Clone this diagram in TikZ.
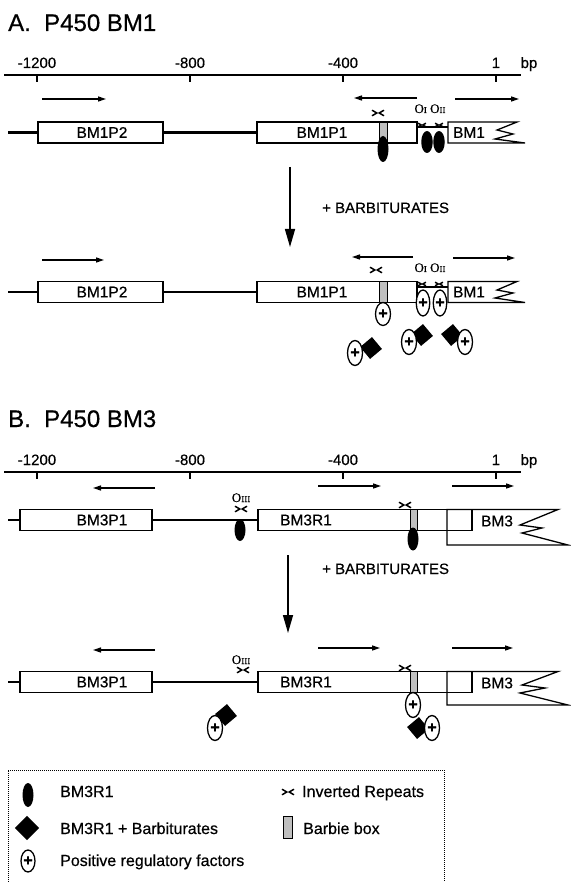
\documentclass[tikz,border=0pt]{standalone}
\usepackage{fontspec}
\setmainfont{Liberation Sans}[FakeBold=0.5]
\newfontfamily\serifo{Liberation Serif}[FakeBold=0.4]
\usetikzlibrary{arrows.meta,shapes.geometric}
\newcommand\smI{{\fontsize{9}{9}\selectfont I}}
\begin{document}
\begin{tikzpicture}[x=1pt,y=-1pt,
 gbox/.style={draw, line width=1.3pt, fill=white, inner sep=0pt, minimum height=21pt},
 gline/.style={draw, line width=1.3pt, line join=miter},
 dna/.style={line width=2.6pt},
 link/.style={line width=1.3pt},
 lbl/.style={inner sep=0pt, font=\fontsize{15.5}{16}\selectfont},
 ttl/.style={inner sep=0pt, anchor=base west, font=\fontsize{24}{26}\selectfont},
 axlbl/.style={inner sep=0pt, anchor=base, font=\fontsize{15}{16}\selectfont},
 axisline/.style={line width=1.3pt},
 tarrow/.style={line width=1.4pt, -{Triangle[length=8pt,width=5pt]}},
 bigarrow/.style={line width=1.5pt, -{Triangle[length=18pt,width=10pt]}},
 barbie/.style={draw, line width=0.9pt, fill=gray!50, inner sep=0pt, minimum width=8pt, minimum height=21pt},
 bm3r/.style={ellipse, fill=black, inner sep=0pt, minimum width=11pt, minimum height=24pt},
 pfac/.style={ellipse, draw, line width=1.3pt, fill=white, inner sep=0pt, minimum width=15pt, minimum height=25pt, font=\fontsize{16}{16}\selectfont\bfseries},
 dmd/.style={rectangle, fill=black, inner sep=0pt, minimum width=15.5pt, minimum height=15.5pt, rotate=40},
 opl/.style={inner sep=0pt, anchor=base, font=\serifo\fontsize{13}{13}\selectfont},
 btxt/.style={inner sep=0pt, anchor=base west, font=\fontsize{15}{16}\selectfont},
 legtxt/.style={inner sep=0pt, anchor=base west, font=\fontsize{16}{18}\selectfont},
 irep/.pic={\draw[line width=1.5pt] (-6,-2.8) -- (-1.2,0) -- (-6,2.8) (6,-2.8) -- (1.2,0) -- (6,2.8);}
]
\useasboundingbox (0,0) rectangle (570,882);

% ================= A =================
\node[ttl] (tA) at (8,31) {A.\ \ P450 BM1};
\coordinate (axAl) at (4,75); \coordinate (axAr) at (521,75);
\draw[axisline] (axAl) -- (axAr);
\foreach \x/\t/\n in {37/-1200/a, 190/-800/b, 343/-400/c, 496/1/d} {
  \draw[axisline] (\x,75) -- (\x,82);
  \node[axlbl] (axA\n) at (\x,68) {\t};
}
\node[axlbl] (bpA) at (529,68) {bp};

% row A1
\draw[tarrow] (42,99) -- (106,99);
\draw[tarrow] (417,98) -- (354,98);
\draw[tarrow] (455,99) -- (519,99);
\node[gbox, minimum width=125pt] (a1p2) at (100.5,132.5) {};
\node[lbl] (a1p2t) at (102,132.5) {BM1P2};
\node[gbox, minimum width=160pt] (a1p1) at (337,132.5) {};
\node[lbl] (a1p1t) at (322,132.5) {BM1P1};
\coordinate (a1s) at (8,132.5);
\draw[dna] (a1s) -- (a1p2.west);
\draw[dna] (a1p2.east) -- (a1p1.west);
\draw[link] (a1p1.east |- 0,127) -- (448,127);
\draw[gline, fill=white] (448,122) -- (517,122) -- (497,130) -- (513,134) -- (495,139) -- (525,143) -- (448,143) -- cycle;
\node[lbl] (a1g) at (469,132.5) {BM1};
\node[barbie] (a1bb) at (383,132.5) {};
\node[bm3r, minimum height=26pt] (a1e0) at (383,149) {};
\node[bm3r, minimum width=11.5pt, minimum height=22pt] (a1e1) at (427,142) {};
\node[bm3r, minimum width=11.5pt, minimum height=22pt] (a1e2) at (439,142) {};
\pic at (378,113) {irep};
\pic[scale=0.65] at (422,125) {irep};
\pic[scale=0.65] at (439,125) {irep};
\node[opl] (a1o) at (430,113) {O\smI\ O\smI\smI};

% arrow A
\coordinate (arAs) at (290,167); \coordinate (arAe) at (290,247);
\draw[bigarrow] (arAs) -- (arAe);
\node[btxt] (barbA) at (322,213) {+ BARBITURATES};

% row A2
\draw[tarrow] (42,260) -- (104,260);
\draw[tarrow] (413,257) -- (352,257);
\draw[tarrow] (453,258) -- (515,258);
\node[gbox, minimum width=125pt] (a2p2) at (100.5,292) {};
\node[lbl] (a2p2t) at (102,292) {BM1P2};
\node[gbox, minimum width=160pt] (a2p1) at (337,292) {};
\node[lbl] (a2p1t) at (322,292) {BM1P1};
\coordinate (a2s) at (8,292);
\draw[dna] (a2s) -- (a2p2.west);
\draw[dna] (a2p2.east) -- (a2p1.west);
\draw[link] (a2p1.east |- 0,287) -- (448,287);
\draw[gline, fill=white] (448,281.5) -- (517,281.5) -- (497,290) -- (513,293) -- (495,298) -- (525,302.5) -- (448,302.5) -- cycle;
\node[lbl] (a2g) at (469,292) {BM1};
\node[barbie] (a2bb) at (383,292) {};
\pic at (376,270) {irep};
\pic[scale=0.65] at (422,284) {irep};
\pic[scale=0.65] at (439,284) {irep};
\node[opl] (a2o) at (430,272) {O\smI\ O\smI\smI};
\node[pfac, minimum height=23pt] (a2f0) at (383,314) {+};
\node[pfac, minimum width=13.5pt, minimum height=26pt] (a2f1) at (423,303) {+};
\node[pfac, minimum width=13.5pt, minimum height=26pt] (a2f2) at (440,303) {+};
\node[dmd] (a2d1) at (371,348) {};
\node[pfac] (a2c1) at (355,353) {+};
\node[dmd] (a2d2) at (422,335) {};
\node[pfac] (a2c2) at (409,342) {+};
\node[dmd] (a2d3) at (452,335) {};
\node[pfac] (a2c3) at (465,342) {+};

% ================= B =================
\node[ttl] (tB) at (8,427) {B.\ \ P450 BM3};
\coordinate (axBl) at (4,472); \coordinate (axBr) at (521,472);
\draw[axisline] (axBl) -- (axBr);
\foreach \x/\t/\n in {37/-1200/a, 190/-800/b, 343/-400/c, 496/1/d} {
  \draw[axisline] (\x,472) -- (\x,479);
  \node[axlbl] (axB\n) at (\x,465) {\t};
}
\node[axlbl] (bpB) at (529,465) {bp};

% row B1
\draw[tarrow] (155,488) -- (93,488);
\draw[tarrow] (318,486) -- (381,486);
\draw[tarrow] (452,486) -- (514,486);
\node[gbox, minimum width=132pt] (b1p1) at (86,520) {};
\node[lbl] (b1p1t) at (102,520) {BM3P1};
\node[gbox, minimum width=214pt] (b1r1) at (365,520) {};
\node[lbl] (b1r1t) at (306,520) {BM3R1};
\coordinate (b1s) at (8,520);
\draw[dna] (b1s) -- (b1p1.west);
\draw[dna] (b1p1.east) -- (b1r1.west);
\draw[gline] (447,509.5) -- (558,509.5) -- (520,525) -- (542,528) -- (522,533) -- (568,545) -- (447,545) -- cycle;
\node[lbl] (b1g) at (497,521) {BM3};
\node[barbie, minimum width=7pt] (b1bb) at (413.5,520) {};
\node[bm3r, minimum width=11pt, minimum height=22pt] (b1e0) at (240,530) {};
\node[bm3r, minimum width=11pt, minimum height=23pt] (b1e1) at (413,539) {};
\pic at (241,509) {irep};
\pic at (405,505) {irep};
\node[opl] (b1o) at (241,502) {O\smI\smI\smI};

% arrow B
\coordinate (arBs) at (288,555); \coordinate (arBe) at (288,633);
\draw[bigarrow] (arBs) -- (arBe);
\node[btxt] (barbB) at (322,574) {+ BARBITURATES};

% row B2
\draw[tarrow] (155,650) -- (93,650);
\draw[tarrow] (318,648) -- (380,648);
\draw[tarrow] (452,648) -- (513,648);
\node[gbox, minimum width=132pt] (b2p1) at (86,682) {};
\node[lbl] (b2p1t) at (102,682) {BM3P1};
\node[gbox, minimum width=214pt] (b2r1) at (365,682) {};
\node[lbl] (b2r1t) at (306,682) {BM3R1};
\coordinate (b2s) at (8,682);
\draw[dna] (b2s) -- (b2p1.west);
\draw[dna] (b2p1.east) -- (b2r1.west);
\draw[gline] (447,671.5) -- (558,671.5) -- (522,685) -- (545,688) -- (520,693) -- (568,705) -- (447,705) -- cycle;
\node[lbl] (b2g) at (497,683) {BM3};
\node[barbie, minimum width=7pt] (b2bb) at (413.5,682) {};
\pic at (243,670) {irep};
\pic at (405,668) {irep};
\node[opl] (b2o) at (241,664) {O\smI\smI\smI};
\node[pfac] (b2f0) at (413,705) {+};
\node[dmd] (b2d1) at (418,728) {};
\node[pfac] (b2c1) at (432,728) {+};
\node[dmd] (b2d2) at (226,715) {};
\node[pfac] (b2c2) at (215,728) {+};

% ================= legend =================
\coordinate (lgA) at (8,882); \coordinate (lgB) at (8,770);
\coordinate (lgC) at (444,770); \coordinate (lgD) at (444,882);
\draw[line width=0.8pt, dash pattern=on 1pt off 1pt] (lgA) -- (lgB) -- (lgC) -- (lgD);
\node[bm3r, minimum height=24pt] (lg1) at (28,795) {};
\node[dmd, minimum width=17pt, minimum height=17pt, rotate=5] (lg2) at (27,828) {};
\node[pfac, minimum width=14pt, minimum height=22pt] (lg3) at (28,861) {+};
\node[legtxt] (lg1t) at (60,797) {BM3R1};
\node[legtxt] (lg2t) at (60,834) {BM3R1 + Barbiturates};
\node[legtxt] (lg3t) at (60,866) {Positive regulatory factors};
\pic at (288,792) {irep};
\node[legtxt] (lg4t) at (302,797) {Inverted Repeats};
\node[barbie, minimum width=9pt, minimum height=22pt] (lg5) at (287.5,827) {};
\node[legtxt] (lg5t) at (303,834) {Barbie box};
\end{tikzpicture}
\end{document}
